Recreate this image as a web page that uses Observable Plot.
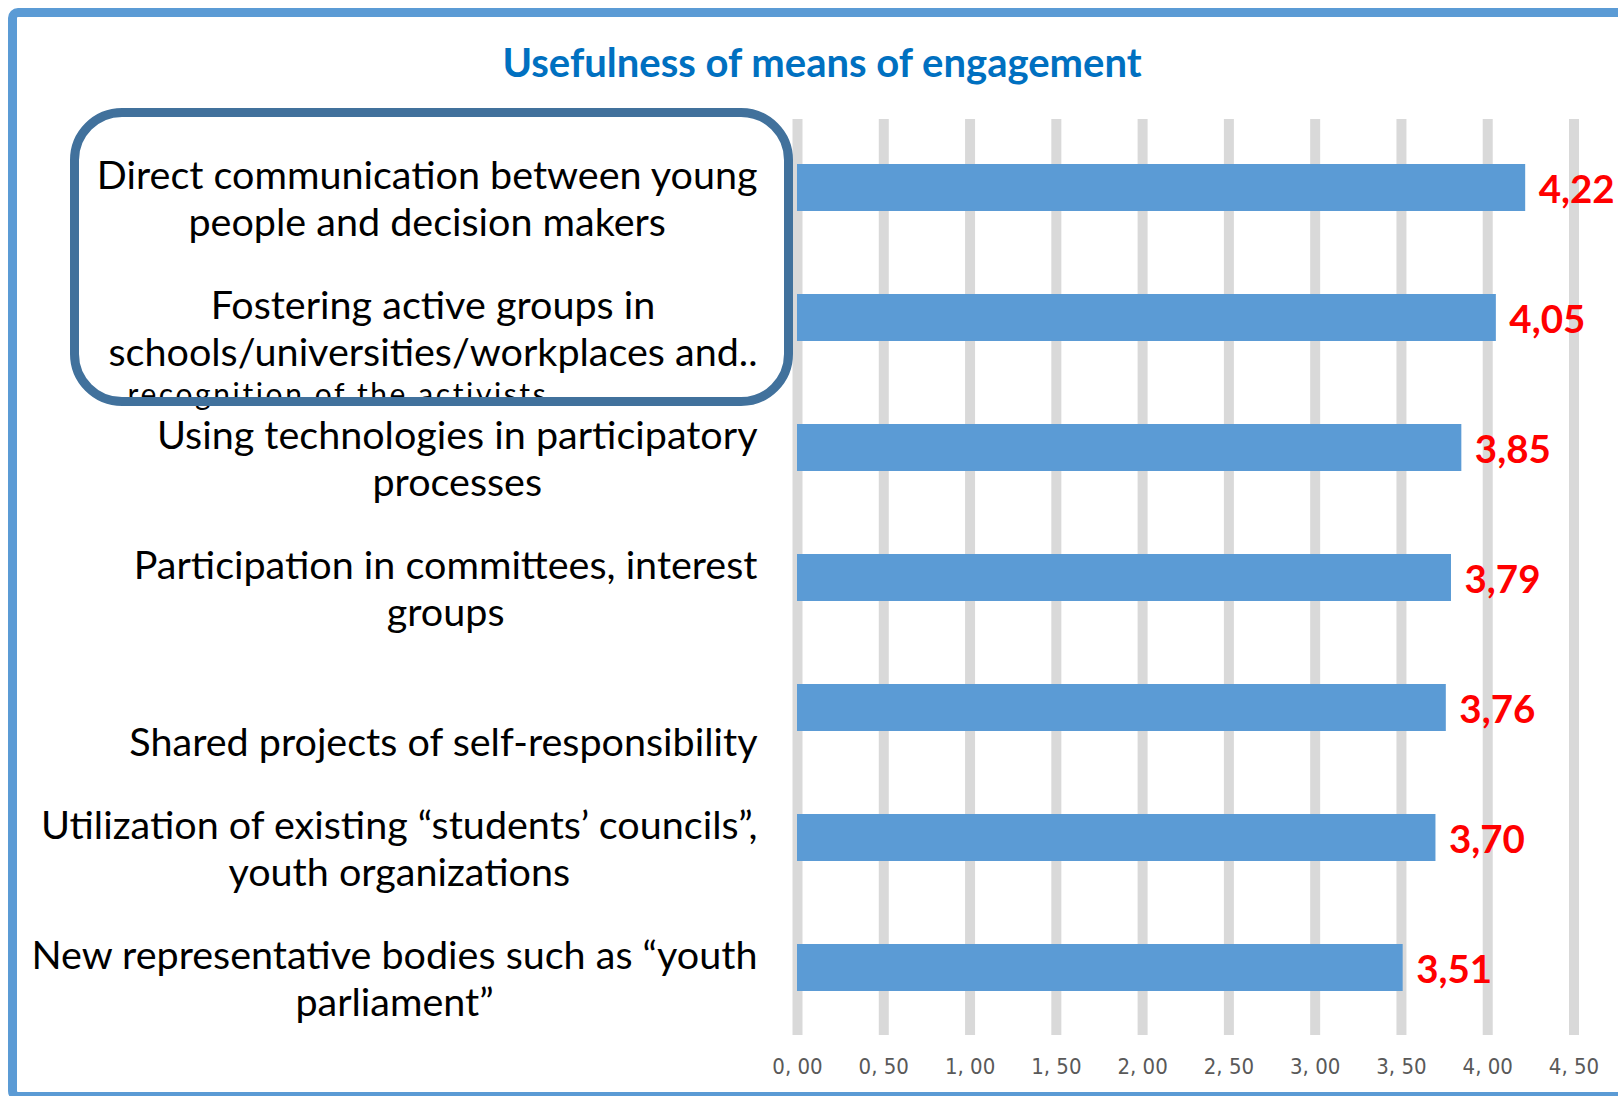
<!DOCTYPE html>
<html><head><meta charset="utf-8">
<script src="https://cdn.jsdelivr.net/npm/d3@7"></script>
<script src="https://cdn.jsdelivr.net/npm/@observablehq/plot@0.6"></script>
<style>
html,body{margin:0;padding:0;background:#fff;}
body{width:1618px;height:1096px;overflow:hidden;position:relative;font-family:Lato, sans-serif;}
#header{position:relative;height:100px;}
#title{position:absolute;left:822px;top:42px;transform:translateX(-50%);font:bold 40px Lato, sans-serif;line-height:40px;color:#0070c0;white-space:nowrap;}
#frame{position:absolute;left:8px;top:8px;width:1700px;height:1093px;box-sizing:border-box;border:9px solid #5b9bd5;border-radius:10px;pointer-events:none;}
#box{position:absolute;left:70px;top:108px;width:723px;height:298px;box-sizing:border-box;border:9px solid #41719c;border-radius:52px;pointer-events:none;}
</style></head><body>
<div id="header"><div id="title">Usefulness of means of engagement</div></div>
<div id="chart"></div>
<div id="box"></div>
<div id="frame"></div>
<script>
const categories = [
  "Direct communication between young people and decision makers",
  "Fostering active groups in schools/universities/workplaces and recognition of the activists",
  "Using technologies in participatory processes",
  "Participation in committees, interest groups",
  "Shared projects of self-responsibility",
  "Utilization of existing “students’ councils”, youth organizations",
  "New representative bodies such as “youth parliament”"
];
const values = [4.22, 4.05, 3.85, 3.79, 3.76, 3.70, 3.51];
const labelLines = [
  ["Direct communication between young", "people and decision makers"],
  ["Fostering active groups in", "schools/universities/workplaces and.."],
  ["Using technologies in participatory", "processes"],
  ["Participation in committees, interest", "groups"],
  ["Shared projects of self-responsibility"],
  ["Utilization of existing “students’ councils”,", "youth organizations"],
  ["New representative bodies such as “youth", "parliament”"]
];
const extraLines = ["", "recognition of the activists", "", "", "", "", ""];
const xTicks = [0, 0.5, 1, 1.5, 2, 2.5, 3, 3.5, 4, 4.5];
const valueFormat = d => d.toFixed(2).replace(".", ",");
const tickFormat = d => d.toFixed(2).replace(".", ", ");

const data = categories.map((c, i) => ({
  category: c, value: values[i], label: labelLines[i].join("\n"), extra: extraLines[i]
}));

const plot = Plot.plot({
  width: 1618, height: 996,
  marginTop: 19, marginBottom: 61, marginLeft: 797, marginRight: 44.5,
  style: {fontFamily: "Lato, sans-serif", background: "white"},
  x: {domain: [0, 4.5]},
  y: {domain: categories, paddingInner: 0.64, paddingOuter: 0.32, axis: null},
  marks: [
    Plot.gridX(xTicks, {stroke: "#d9d9d9", strokeOpacity: 1, strokeWidth: 10}),
    Plot.barX(data, {x: "value", y: "category", fill: "#5b9bd5"}),
    Plot.text(data, {x: "value", y: "category", text: d => valueFormat(d.value), textAnchor: "start",
      dx: 13, dy: 3, fill: "#ff0000", fontWeight: "bold", fontSize: 38.5}),
    Plot.text(data, {y: "category", text: "label", frameAnchor: "left", textAnchor: "end",
      lineAnchor: "bottom", lineHeight: 1.2, dx: -40, dy: 48, fontSize: 39.5, fill: "#000"}),
    Plot.text(data.filter(d => d.extra), {y: "category", text: "extra", frameAnchor: "left",
      textAnchor: "start", lineAnchor: "bottom", dx: -670, dy: 87, fontSize: 30, fill: "#000",
      ariaLabel: "extra-label"}),
    Plot.axisX(xTicks, {tickSize: 0, tickPadding: 23, tickFormat, fontSize: 22, fill: "#595959",
      fontFamily: "'Liberation Sans Narrow', 'DejaVu Sans Condensed', sans-serif", label: null})
  ]
});
document.getElementById("chart").append(plot);
// centre the lines of each multi-line category label within its right-aligned block
plot.querySelectorAll("text").forEach(t => {
  const spans = t.querySelectorAll("tspan");
  if (spans.length < 2) return;
  const w = Math.max(...Array.from(spans, s => s.getComputedTextLength()));
  t.setAttribute("text-anchor", "middle");
  spans.forEach(s => s.setAttribute("x", -w / 2));
});
// the small continuation line is letter-spaced in the reference
plot.querySelectorAll("text").forEach(t => {
  if (t.textContent === extraLines[1]) t.style.letterSpacing = "2.6px";
});
</script>
</body></html>
